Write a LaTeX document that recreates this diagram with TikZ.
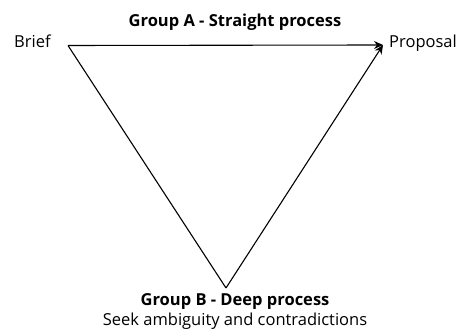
\documentclass[tikz,border=0pt]{standalone}
\usepackage{fontspec}
\setmainfont{Open Sans}
\usetikzlibrary{arrows.meta}
\begin{document}
\begin{tikzpicture}[x=1pt,y=1pt,
  lbl/.style={inner sep=0pt, font=\fontsize{16.5}{19}\selectfont},
  ttl/.style={inner sep=0pt, font=\fontsize{16.5}{19}\selectfont\bfseries},
  edge/.style={line width=1.1pt, draw=black},
  arr/.style={edge, -{Stealth[length=9pt,width=8pt]}}]
\useasboundingbox (0,0) rectangle (465,331);
\coordinate (L) at (68,285.5);
\coordinate (R) at (383,286);
\coordinate (B) at (226,43);
\node[lbl, anchor=base west] (brief) at (14,283.5) {Brief};
\node[lbl, anchor=base west] (prop) at (389,283.5) {Proposal};
\node[ttl, anchor=base] (ga) at (235,304) {Group A - Straight process};
\node[ttl, anchor=base] (gb) at (235,25.5) {Group B - Deep process};
\node[lbl, anchor=base] (seek) at (235,5) {Seek ambiguity and contradictions};
\draw[arr] (L) -- (R);
\draw[edge] (L) -- (B);
\draw[arr] (B) -- (R);
\end{tikzpicture}
\end{document}
